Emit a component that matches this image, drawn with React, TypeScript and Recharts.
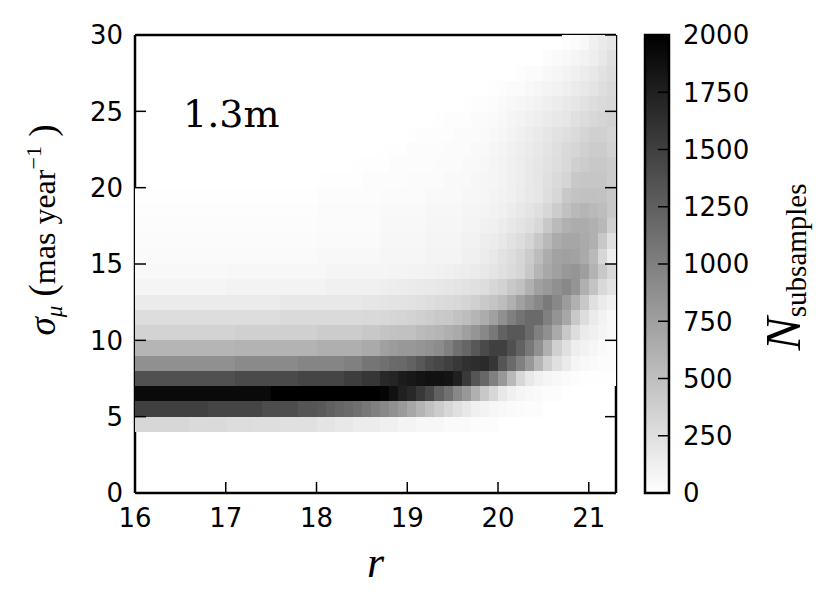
import { ScatterChart, Scatter, XAxis, YAxis, BarChart, Bar, Label } from 'recharts';

// ---------------------------------------------------------------------------
// Bins and ticks
// ---------------------------------------------------------------------------
// r-band magnitude bin edges (0.1 mag wide)
const rEdges = [
  16.0, 16.1, 16.2, 16.3, 16.4, 16.5, 16.6, 16.7, 16.8, 16.9,
  17.0, 17.1, 17.2, 17.3, 17.4, 17.5, 17.6, 17.7, 17.8, 17.9,
  18.0, 18.1, 18.2, 18.3, 18.4, 18.5, 18.6, 18.7, 18.8, 18.9,
  19.0, 19.1, 19.2, 19.3, 19.4, 19.5, 19.6, 19.7, 19.8, 19.9,
  20.0, 20.1, 20.2, 20.3, 20.4, 20.5, 20.6, 20.7, 20.8, 20.9,
  21.0, 21.1, 21.2, 21.3,
];
const rTicks = [16, 17, 18, 19, 20, 21];
const sigmaTicks = [0, 5, 10, 15, 20, 25, 30];
const cbarTicks = [0, 250, 500, 750, 1000, 1250, 1500, 1750, 2000];
const N_MAX = 2000;

// ---------------------------------------------------------------------------
// Counts per sigma bin (sNN covers sigma NN..NN+1), one value per r bin.
// Rows 0-3 are empty.
// ---------------------------------------------------------------------------
const s04 = [
  310, 310, 310, 310, 310, 310, 290, 290, 290, 290,
  270, 270, 270, 260, 260, 260, 240, 240, 240, 240,
  210, 210, 180, 180, 150, 150, 150, 120, 120, 90,
  90, 65, 65, 65, 40, 40, 40, 20, 20, 20,
  0, 0, 0, 0, 0, 0, 0, 0, 0, 0,
  0, 0, 0,
];
const s05 = [
  1500, 1500, 1500, 1500, 1500, 1500, 1500, 1500, 1460, 1460,
  1460, 1460, 1460, 1460, 1400, 1400, 1400, 1400, 1330, 1330,
  1300, 1250, 1200, 1170, 1120, 1060, 1000, 930, 870, 790,
  690, 590, 490, 400, 310, 240, 180, 120, 95, 70,
  55, 40, 30, 25, 20, 0, 0, 0, 0, 0,
  0, 0, 0,
];
const s06 = [
  1920, 1920, 1920, 1920, 1920, 1920, 1920, 1920, 1920, 1920,
  1920, 1920, 1920, 1920, 1920, 2000, 2000, 2000, 2000, 2000,
  2000, 2000, 2000, 2000, 2000, 2000, 2000, 1960, 1870, 1750,
  1690, 1560, 1440, 1250, 1120, 930, 810, 620, 430, 310,
  180, 120, 80, 55, 40, 25, 20, 10, 0, 0,
  0, 0, 0,
];
const s07 = [
  1370, 1370, 1370, 1370, 1370, 1370, 1370, 1370, 1370, 1370,
  1370, 1420, 1420, 1420, 1420, 1420, 1420, 1420, 1460, 1460,
  1460, 1460, 1460, 1520, 1520, 1580, 1580, 1690, 1710, 1780,
  1810, 1840, 1870, 1870, 1840, 1750, 1550, 1330, 1190, 1000,
  810, 560, 310, 180, 120, 80, 55, 40, 25, 10,
  10, 10, 10,
];
const s08 = [
  870, 870, 870, 870, 870, 870, 870, 870, 870, 870,
  870, 920, 920, 920, 920, 920, 920, 920, 960, 960,
  960, 960, 960, 1000, 1000, 1080, 1080, 1120, 1170, 1180,
  1230, 1310, 1400, 1440, 1500, 1560, 1620, 1650, 1670, 1580,
  1330, 1170, 1000, 810, 580, 370, 240, 160, 80, 55,
  40, 25, 25,
];
const s09 = [
  580, 580, 580, 580, 580, 580, 580, 580, 580, 580,
  580, 600, 600, 600, 600, 600, 600, 600, 600, 600,
  630, 630, 630, 630, 630, 670, 670, 745, 780, 810,
  810, 830, 860, 900, 1000, 1120, 1200, 1310, 1420, 1500,
  1500, 1370, 1230, 1060, 870, 620, 370, 240, 130, 100,
  70, 40, 25,
];
const s10 = [
  345, 345, 345, 345, 345, 345, 345, 345, 345, 345,
  345, 370, 370, 370, 370, 370, 370, 370, 370, 370,
  400, 400, 400, 400, 400, 430, 430, 460, 480, 490,
  490, 530, 560, 580, 630, 670, 750, 830, 930, 1060,
  1230, 1310, 1310, 1170, 1000, 870, 670, 430, 270, 160,
  120, 80, 55,
];
const s11 = [
  270, 270, 270, 270, 270, 270, 270, 270, 270, 270,
  270, 270, 270, 270, 270, 270, 290, 290, 290, 290,
  290, 290, 290, 290, 290, 300, 300, 305, 320, 330,
  345, 370, 390, 420, 430, 480, 520, 580, 650, 745,
  870, 1000, 1100, 1170, 1170, 1000, 840, 690, 430, 270,
  160, 100, 55,
];
const s12 = [
  157, 157, 157, 157, 157, 157, 157, 157, 157, 157,
  157, 157, 157, 157, 157, 157, 180, 180, 180, 180,
  180, 180, 180, 180, 180, 200, 200, 210, 220, 220,
  230, 240, 260, 280, 290, 305, 330, 370, 420, 460,
  520, 620, 745, 840, 930, 1040, 930, 780, 620, 430,
  240, 160, 110,
];
const s13 = [
  78, 78, 78, 78, 78, 78, 78, 78, 78, 78,
  95, 95, 95, 95, 95, 95, 95, 95, 95, 95,
  95, 118, 118, 118, 118, 118, 118, 135, 140, 150,
  157, 165, 170, 180, 196, 210, 230, 240, 270, 310,
  350, 430, 490, 620, 745, 800, 870, 930, 840, 620,
  470, 300, 220,
];
const s14 = [
  55, 55, 55, 55, 55, 55, 55, 55, 55, 55,
  62, 62, 62, 62, 62, 62, 62, 62, 62, 62,
  62, 78, 78, 78, 78, 78, 78, 78, 86, 86,
  95, 95, 100, 110, 118, 135, 140, 157, 180, 210,
  243, 280, 330, 430, 580, 680, 745, 810, 830, 760,
  600, 430, 300,
];
const s15 = [
  40, 40, 40, 40, 40, 40, 40, 40, 40, 40,
  40, 40, 40, 40, 40, 40, 40, 40, 40, 40,
  55, 55, 55, 55, 55, 55, 55, 70, 70, 70,
  70, 70, 90, 90, 90, 90, 118, 118, 150, 180,
  230, 265, 320, 400, 520, 650, 730, 745, 730, 670,
  550, 310, 135,
];
const s16 = [
  30, 30, 30, 30, 30, 30, 30, 30, 30, 30,
  30, 30, 30, 30, 30, 30, 30, 30, 30, 30,
  40, 40, 40, 40, 40, 40, 40, 62, 62, 62,
  62, 62, 80, 80, 80, 80, 100, 100, 130, 150,
  180, 230, 265, 330, 430, 550, 660, 700, 700, 670,
  620, 430, 240,
];
const s17 = [
  24, 24, 24, 24, 24, 24, 24, 24, 24, 24,
  24, 24, 24, 24, 24, 24, 24, 24, 24, 24,
  35, 35, 35, 35, 35, 35, 35, 55, 55, 55,
  55, 55, 70, 70, 70, 70, 90, 90, 110, 118,
  150, 180, 210, 250, 305, 430, 540, 620, 650, 650,
  620, 560, 370,
];
const s18 = [
  15, 15, 15, 15, 15, 15, 15, 15, 15, 15,
  15, 15, 15, 15, 15, 15, 15, 15, 15, 15,
  30, 30, 30, 30, 30, 30, 30, 45, 45, 45,
  45, 45, 60, 60, 60, 60, 78, 78, 90, 100,
  118, 150, 180, 210, 250, 310, 400, 490, 550, 580,
  550, 520, 430,
];
const s19 = [
  8, 8, 8, 8, 8, 8, 8, 8, 8, 8,
  8, 8, 8, 8, 8, 8, 8, 8, 8, 8,
  20, 20, 20, 20, 20, 20, 20, 35, 35, 35,
  35, 35, 50, 50, 50, 50, 62, 62, 70, 86,
  100, 118, 150, 180, 200, 260, 310, 430, 470, 490,
  490, 480, 430,
];
const s20 = [
  0, 0, 0, 0, 0, 0, 0, 0, 0, 0,
  0, 0, 0, 0, 0, 0, 0, 0, 0, 0,
  8, 8, 8, 8, 8, 20, 20, 20, 20, 20,
  35, 35, 35, 35, 50, 50, 50, 62, 70, 78,
  95, 120, 140, 170, 200, 240, 290, 330, 430, 450,
  450, 450, 400,
];
const s21 = [
  0, 0, 0, 0, 0, 0, 0, 0, 0, 0,
  0, 0, 0, 0, 0, 0, 0, 0, 0, 0,
  0, 0, 0, 0, 8, 8, 8, 8, 20, 20,
  20, 20, 20, 35, 35, 35, 50, 50, 62, 78,
  95, 120, 140, 170, 200, 230, 260, 300, 370, 400,
  430, 430, 400,
];
const s22 = [
  0, 0, 0, 0, 0, 0, 0, 0, 0, 0,
  0, 0, 0, 0, 0, 0, 0, 0, 0, 0,
  0, 0, 0, 0, 0, 0, 0, 8, 8, 8,
  20, 20, 20, 20, 35, 35, 35, 50, 50, 70,
  86, 110, 130, 157, 180, 210, 250, 300, 320, 370,
  400, 400, 350,
];
const s23 = [
  0, 0, 0, 0, 0, 0, 0, 0, 0, 0,
  0, 0, 0, 0, 0, 0, 0, 0, 0, 0,
  0, 0, 0, 0, 0, 0, 0, 0, 0, 0,
  8, 15, 15, 15, 15, 30, 30, 30, 40, 55,
  70, 95, 118, 140, 165, 196, 230, 250, 290, 330,
  370, 370, 330,
];
const s24 = [
  0, 0, 0, 0, 0, 0, 0, 0, 0, 0,
  0, 0, 0, 0, 0, 0, 0, 0, 0, 0,
  0, 0, 0, 0, 0, 0, 0, 0, 0, 0,
  0, 0, 0, 8, 15, 15, 15, 30, 30, 40,
  55, 78, 95, 118, 135, 157, 180, 200, 240, 275,
  305, 330, 350,
];
const s25 = [
  0, 0, 0, 0, 0, 0, 0, 0, 0, 0,
  0, 0, 0, 0, 0, 0, 0, 0, 0, 0,
  0, 0, 0, 0, 0, 0, 0, 0, 0, 0,
  0, 0, 0, 0, 0, 0, 8, 15, 15, 24,
  40, 55, 70, 86, 100, 125, 150, 170, 200, 230,
  265, 290, 305,
];
const s26 = [
  0, 0, 0, 0, 0, 0, 0, 0, 0, 0,
  0, 0, 0, 0, 0, 0, 0, 0, 0, 0,
  0, 0, 0, 0, 0, 0, 0, 0, 0, 0,
  0, 0, 0, 0, 0, 0, 0, 0, 0, 8,
  15, 30, 30, 55, 70, 86, 100, 125, 157, 180,
  210, 260, 290,
];
const s27 = [
  0, 0, 0, 0, 0, 0, 0, 0, 0, 0,
  0, 0, 0, 0, 0, 0, 0, 0, 0, 0,
  0, 0, 0, 0, 0, 0, 0, 0, 0, 0,
  0, 0, 0, 0, 0, 0, 0, 0, 0, 0,
  0, 0, 15, 30, 30, 55, 70, 95, 118, 150,
  180, 230, 265,
];
const s28 = [
  0, 0, 0, 0, 0, 0, 0, 0, 0, 0,
  0, 0, 0, 0, 0, 0, 0, 0, 0, 0,
  0, 0, 0, 0, 0, 0, 0, 0, 0, 0,
  0, 0, 0, 0, 0, 0, 0, 0, 0, 0,
  0, 0, 0, 0, 0, 24, 40, 55, 78, 100,
  135, 180, 240,
];
const s29 = [
  0, 0, 0, 0, 0, 0, 0, 0, 0, 0,
  0, 0, 0, 0, 0, 0, 0, 0, 0, 0,
  0, 0, 0, 0, 0, 0, 0, 0, 0, 0,
  0, 0, 0, 0, 0, 0, 0, 0, 0, 0,
  0, 0, 0, 0, 0, 0, 0, 15, 30, 55,
  118, 160, 200,
];

const sigmaRows: [number, number[]][] = [
  [4, s04], [5, s05], [6, s06], [7, s07], [8, s08], [9, s09],
  [10, s10], [11, s11], [12, s12], [13, s13], [14, s14], [15, s15],
  [16, s16], [17, s17], [18, s18], [19, s19], [20, s20], [21, s21],
  [22, s22], [23, s23], [24, s24], [25, s25], [26, s26], [27, s27],
  [28, s28], [29, s29],
];

// ---------------------------------------------------------------------------
// Layout / style
// ---------------------------------------------------------------------------
const W = 832;
const H = 610;
const PLOT_LEFT = 135;
const PLOT_RIGHT = 616;
const PLOT_TOP = 35;
const PLOT_BOTTOM = 493;
const TICK_LEN = 11;
const FRAME = 2.5;
const TICK_FONT = '"DejaVu Sans", sans-serif';
const MATH_FONT = '"Liberation Serif", "DejaVu Serif", serif';

const grayFor = (n: number) => {
  const g = Math.round(255 * (1 - Math.min(n, N_MAX) / N_MAX));
  return `rgb(${g},${g},${g})`;
};

type Bin = { r: number; s: number; r0: number; r1: number; s0: number; s1: number; n: number };

const bins: Bin[] = [];
sigmaRows.forEach(([s0, row]) => {
  row.forEach((n, c) => {
    if (n <= 0) return;
    const r0 = rEdges[c];
    const r1 = rEdges[c + 1];
    bins.push({ r: (r0 + r1) / 2, s: s0 + 0.5, r0, r1, s0, s1: s0 + 1, n });
  });
});

// fallback cell size if the axis scales are not handed to the shape
const CELL_W = ((PLOT_RIGHT - PLOT_LEFT) * 0.1) / 5.3;
const CELL_H = (PLOT_BOTTOM - PLOT_TOP) / 30;

function BinCell(props: any) {
  const { cx, cy, payload, xAxis, yAxis } = props;
  if (cx == null || cy == null || !payload) return null;
  const sx = xAxis?.scale;
  const sy = yAxis?.scale;
  let x = cx - CELL_W / 2;
  let y = cy - CELL_H / 2;
  let w = CELL_W;
  let h = CELL_H;
  if (typeof sx === 'function' && typeof sy === 'function') {
    const xa = sx(payload.r0);
    const xb = sx(payload.r1);
    const ya = sy(payload.s1);
    const yb = sy(payload.s0);
    if ([xa, xb, ya, yb].every((v) => Number.isFinite(v))) {
      x = xa;
      w = xb - xa;
      y = ya;
      h = yb - ya;
    }
  }
  return <rect x={x} y={y} width={w} height={h} fill={grayFor(payload.n)} shapeRendering="crispEdges" />;
}

// ---------------------------------------------------------------------------
// Inward ticks (classic matplotlib look)
// ---------------------------------------------------------------------------
function BottomTick({ x, y, payload }: any) {
  return (
    <g>
      <line x1={x} y1={y} x2={x} y2={y - TICK_LEN} stroke="#000" strokeWidth={1.5} />
      <text x={x} y={y + 34} textAnchor="middle" fontFamily={TICK_FONT} fontSize={26} fill="#000">
        {payload.value}
      </text>
    </g>
  );
}

function TopTick({ x, y }: any) {
  return <line x1={x} y1={y} x2={x} y2={y + TICK_LEN} stroke="#000" strokeWidth={1.5} />;
}

function LeftTick({ x, y, payload }: any) {
  return (
    <g>
      <line x1={x} y1={y} x2={x + TICK_LEN} y2={y} stroke="#000" strokeWidth={1.5} />
      <text x={x - 12} y={y} dy="0.36em" textAnchor="end" fontFamily={TICK_FONT} fontSize={26} fill="#000">
        {payload.value}
      </text>
    </g>
  );
}

function RightTick({ x, y }: any) {
  return <line x1={x} y1={y} x2={x - TICK_LEN} y2={y} stroke="#000" strokeWidth={1.5} />;
}

function CbarTick({ x, y, payload }: any) {
  return (
    <g>
      <line x1={x} y1={y} x2={x - TICK_LEN} y2={y} stroke="#000" strokeWidth={1.5} />
      <text x={x + 14} y={y} dy="0.36em" textAnchor="start" fontFamily={TICK_FONT} fontSize={26} fill="#000">
        {payload.value}
      </text>
    </g>
  );
}

// ---------------------------------------------------------------------------
// Axis labels
// ---------------------------------------------------------------------------
function SigmaLabel({ viewBox }: any) {
  const vb = viewBox ?? { x: 0, y: PLOT_TOP, width: PLOT_LEFT, height: PLOT_BOTTOM - PLOT_TOP };
  const cx = vb.x + 55;
  const cy = vb.y + vb.height / 2 - 34;
  return (
    <text
      x={cx}
      y={cy}
      transform={`rotate(-90 ${cx} ${cy})`}
      textAnchor="middle"
      fontFamily={MATH_FONT}
      fontSize={32}
      fill="#000"
    >
      <tspan fontStyle="italic" fontSize={37}>σ</tspan>
      <tspan fontStyle="italic" fontSize={23} dy={7}>μ</tspan>
      <tspan dy={-7} fontSize={37}>{' ('}</tspan>
      <tspan>{'mas year'}</tspan>
      <tspan fontSize={22} dy={-14}>−1</tspan>
      <tspan dy={14} fontSize={37}>{' )'}</tspan>
    </text>
  );
}

function RLabel({ viewBox }: any) {
  const vb = viewBox ?? { x: PLOT_LEFT, y: PLOT_BOTTOM, width: PLOT_RIGHT - PLOT_LEFT, height: 0 };
  return (
    <text
      x={vb.x + vb.width / 2}
      y={vb.y + 84}
      textAnchor="middle"
      fontFamily={MATH_FONT}
      fontStyle="italic"
      fontSize={44}
      fill="#000"
    >
      r
    </text>
  );
}

function CbarLabel({ viewBox }: any) {
  const vb = viewBox ?? { x: 669, y: PLOT_TOP, width: 163, height: PLOT_BOTTOM - PLOT_TOP };
  const cx = vb.x + 131;
  const cy = vb.y + vb.height / 2 + 3;
  return (
    <text
      x={cx}
      y={cy}
      transform={`rotate(-90 ${cx} ${cy})`}
      textAnchor="middle"
      fontFamily={MATH_FONT}
      fontSize={50}
      fill="#000"
    >
      <tspan fontStyle="italic">N</tspan>
      <tspan fontSize={29} dy={6}>subsamples</tspan>
    </text>
  );
}

// ---------------------------------------------------------------------------
// Component
// ---------------------------------------------------------------------------
const cbarData = [{ name: 'cbar', v: N_MAX }];

export default function App() {
  return (
    <div style={{ position: 'absolute', left: 0, top: 0, width: W, height: H, background: '#fff' }}>
      <div style={{ position: 'absolute', left: 0, top: 0 }}>
        <ScatterChart width={W} height={H} margin={{ top: 0, right: 0, bottom: 0, left: 0 }}>
          <XAxis
            xAxisId="b"
            type="number"
            dataKey="r"
            domain={[16, 21.3]}
            allowDataOverflow
            ticks={rTicks}
            height={H - PLOT_BOTTOM}
            tickSize={0}
            tickMargin={0}
            tickLine={false}
            tick={<BottomTick />}
            axisLine={{ stroke: '#000', strokeWidth: FRAME }}
          >
            <Label content={<RLabel />} />
          </XAxis>
          <XAxis
            xAxisId="t"
            orientation="top"
            type="number"
            domain={[16, 21.3]}
            allowDataOverflow
            ticks={rTicks}
            height={PLOT_TOP}
            tickSize={0}
            tickMargin={0}
            tickLine={false}
            tick={<TopTick />}
            axisLine={{ stroke: '#000', strokeWidth: FRAME }}
          />
          <YAxis
            yAxisId="l"
            type="number"
            dataKey="s"
            domain={[0, 30]}
            allowDataOverflow
            ticks={sigmaTicks}
            width={PLOT_LEFT}
            tickSize={0}
            tickMargin={0}
            tickLine={false}
            tick={<LeftTick />}
            axisLine={{ stroke: '#000', strokeWidth: FRAME }}
          >
            <Label content={<SigmaLabel />} />
          </YAxis>
          <YAxis
            yAxisId="rt"
            orientation="right"
            type="number"
            domain={[0, 30]}
            allowDataOverflow
            ticks={sigmaTicks}
            width={W - PLOT_RIGHT}
            tickSize={0}
            tickMargin={0}
            tickLine={false}
            tick={<RightTick />}
            axisLine={{ stroke: '#000', strokeWidth: FRAME }}
          />
          <Scatter
            xAxisId="b"
            yAxisId="l"
            data={bins}
            shape={<BinCell />}
            isAnimationActive={false}
          />
          <text x={183} y={127} fontFamily='"DejaVu Serif", serif' fontSize={38} fill="#000">
            1.3m
          </text>
        </ScatterChart>
      </div>

      {/* Colour bar */}
      <div style={{ position: 'absolute', left: 620, top: 0 }}>
        <BarChart
          width={212}
          height={H}
          data={cbarData}
          margin={{ top: PLOT_TOP, right: 0, bottom: H - PLOT_BOTTOM, left: 25 }}
          barCategoryGap={0}
        >
          <defs>
            <linearGradient id="cbGrad" x1="0" y1="0" x2="0" y2="1">
              <stop offset="0" stopColor={grayFor(N_MAX)} />
              <stop offset="1" stopColor={grayFor(0)} />
            </linearGradient>
          </defs>
          <XAxis dataKey="name" hide />
          <YAxis
            orientation="right"
            type="number"
            domain={[0, N_MAX]}
            ticks={cbarTicks}
            width={163}
            tickSize={0}
            tickMargin={0}
            tickLine={false}
            axisLine={false}
            tick={<CbarTick />}
          >
            <Label content={<CbarLabel />} />
          </YAxis>
          <Bar dataKey="v" fill="url(#cbGrad)" stroke="#000" strokeWidth={FRAME} isAnimationActive={false} />
        </BarChart>
      </div>
    </div>
  );
}
